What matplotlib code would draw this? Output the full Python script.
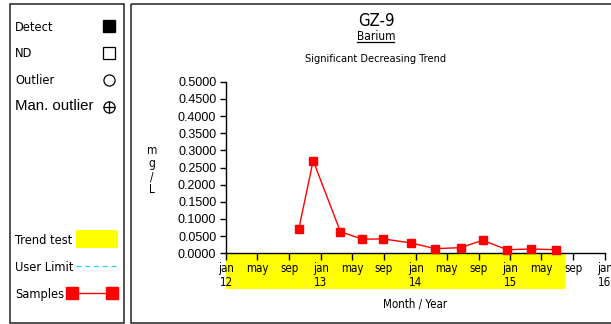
import datetime as dt
import matplotlib
matplotlib.use('Agg')
import matplotlib.pyplot as plt
import matplotlib.dates as mdates
import matplotlib.transforms as mtransforms
from matplotlib.patches import Rectangle
from matplotlib.ticker import FixedLocator, FuncFormatter

# sample dates and barium concentrations (mg/L)
dates = [dt.date(2012, 10, 8), dt.date(2012, 12, 2), dt.date(2013, 3, 17),
         dt.date(2013, 6, 10), dt.date(2013, 8, 29), dt.date(2013, 12, 16),
         dt.date(2014, 3, 17), dt.date(2014, 6, 24), dt.date(2014, 9, 16),
         dt.date(2014, 12, 20), dt.date(2015, 3, 20), dt.date(2015, 6, 25)]
values = [0.072, 0.270, 0.063, 0.041, 0.042, 0.030,
          0.0135, 0.0165, 0.038, 0.0105, 0.0125, 0.0105]

trend_start = dt.date(2012, 1, 1)
trend_end = dt.date(2015, 7, 31)

well = 'GZ-9'
analyte = 'Barium'
trend_text = 'Significant Decreasing Trend'
month_names = {1: 'jan', 5: 'may', 9: 'sep'}

# condensed face stands in for the plotter font of the original
NARROW = dict(family=['DejaVu Sans'], stretch='condensed')
ARIAL = ['Liberation Sans', 'DejaVu Sans']

W, H = 611, 324
fig = plt.figure(figsize=(W / 100, H / 100), dpi=100)

# overlay in pixel coordinates for boxes, titles and legend
ov = fig.add_axes([0, 0, 1, 1])
ov.set_xlim(0, W)
ov.set_ylim(H, 0)
ov.axis('off')

ov.add_patch(Rectangle((9.5, 3.5), 114, 319, fill=False, lw=1.1, ec='#222222'))
ov.add_patch(Rectangle((130.5, 3.5), 500, 319, fill=False, lw=1.1, ec='#222222',
                       clip_on=False))

# titles
ov.text(376, 26, well, fontsize=12, ha='center', va='baseline', **NARROW)
ov.text(376, 39.5, analyte, fontsize=8.6, ha='center', va='baseline', **NARROW)
ov.plot([357, 394], [42.3, 42.3], color='black', lw=0.9)
ov.text(376, 62, trend_text, fontsize=7.9, ha='center', va='baseline', **NARROW)

# legend
lab_fs = 9.2
ov.text(15, 31, 'Detect', fontsize=lab_fs, va='baseline', **NARROW)
ov.plot([108.5], [26], 's', ms=8.5, color='black')
ov.text(15, 57, 'ND', fontsize=lab_fs, va='baseline', **NARROW)
ov.plot([108.5], [52.5], 's', ms=8, mfc='white', mec='black', mew=0.9)
ov.text(15, 84, 'Outlier', fontsize=lab_fs, va='baseline', **NARROW)
ov.plot([108.5], [79.5], 'o', ms=8, mfc='white', mec='black', mew=0.9)
ov.text(15, 110.5, 'Man. outlier', family=ARIAL, fontsize=10.8, va='baseline')
ov.plot([108.5], [107], 'o', ms=8, mfc='white', mec='black', mew=0.9)
ov.plot([108.5], [107], '+', ms=8, mec='black', mew=0.9)

ov.text(15, 244, 'Trend test', fontsize=lab_fs, va='baseline', **NARROW)
ov.add_patch(Rectangle((76, 230), 42, 18, color='yellow', lw=0))
ov.text(15, 271, 'User Limit', fontsize=lab_fs, va='baseline', **NARROW)
ov.plot([76, 118], [266, 266], color='#33ccee', lw=0.9, ls=(0, (4, 3)))
ov.text(15, 298, 'Samples', fontsize=lab_fs, va='baseline', **NARROW)
ov.plot([72, 112], [293, 293], color='red', lw=1, marker='s', ms=8.5)

ov.text(152, 170, 'm\ng\n/\nL', fontsize=8.5, ha='center',
        va='center', linespacing=1.0, **NARROW)

# main chart
ax = fig.add_axes([226 / W, 1 - 253.3 / H, 379 / W, 171.6 / H])
ax.patch.set_alpha(0)
ax.plot(dates, values, color='red', lw=1, marker='s', ms=6, zorder=3, clip_on=False)

ax.set_xlim(dt.date(2012, 1, 1), dt.date(2016, 1, 1))
ax.set_ylim(0, 0.5)
for s in ['top', 'right']:
    ax.spines[s].set_visible(False)
for s in ['left', 'bottom']:
    ax.spines[s].set_linewidth(1.0)

ax.set_yticks([i * 0.05 for i in range(11)])
ax.yaxis.set_major_formatter(FuncFormatter(lambda v, p: '%.4f' % v))
ax.tick_params(axis='y', direction='out', length=4, width=1, pad=3, labelsize=9)
for lab in ax.get_yticklabels():
    lab.set_family(ARIAL)

xt = [dt.date(y, m, 1) for y in range(2012, 2017) for m in (1, 5, 9)
      if dt.date(y, m, 1) <= dt.date(2016, 1, 1)]
ax.xaxis.set_major_locator(FixedLocator(mdates.date2num(xt)))


def fmt_x(v, p):
    d = mdates.num2date(v)
    s = month_names.get(d.month, '')
    if d.month == 1:
        s += '\n%02d' % (d.year % 100)
    return s


ax.xaxis.set_major_formatter(FuncFormatter(fmt_x))
ax.tick_params(axis='x', direction='out', length=5, width=1, pad=1.5, labelsize=8.3)
for lab in ax.get_xticklabels():
    lab.set_family(NARROW['family'])
    lab.set_stretch(NARROW['stretch'])
    lab.set_linespacing(1.1)
    lab.set_verticalalignment('top')

ax.set_xlabel('Month / Year', fontsize=8.3, labelpad=6, **NARROW)

# trend test period band below the axis
tr = mtransforms.blended_transform_factory(ax.transData, ax.transAxes)
x0 = mdates.date2num(trend_start)
x1 = mdates.date2num(trend_end)
ax.add_patch(Rectangle((x0, -0.208), x1 - x0, 0.208, transform=tr,
                       color='yellow', lw=0, clip_on=False, zorder=0))

fig.savefig('out.png', dpi=100)
